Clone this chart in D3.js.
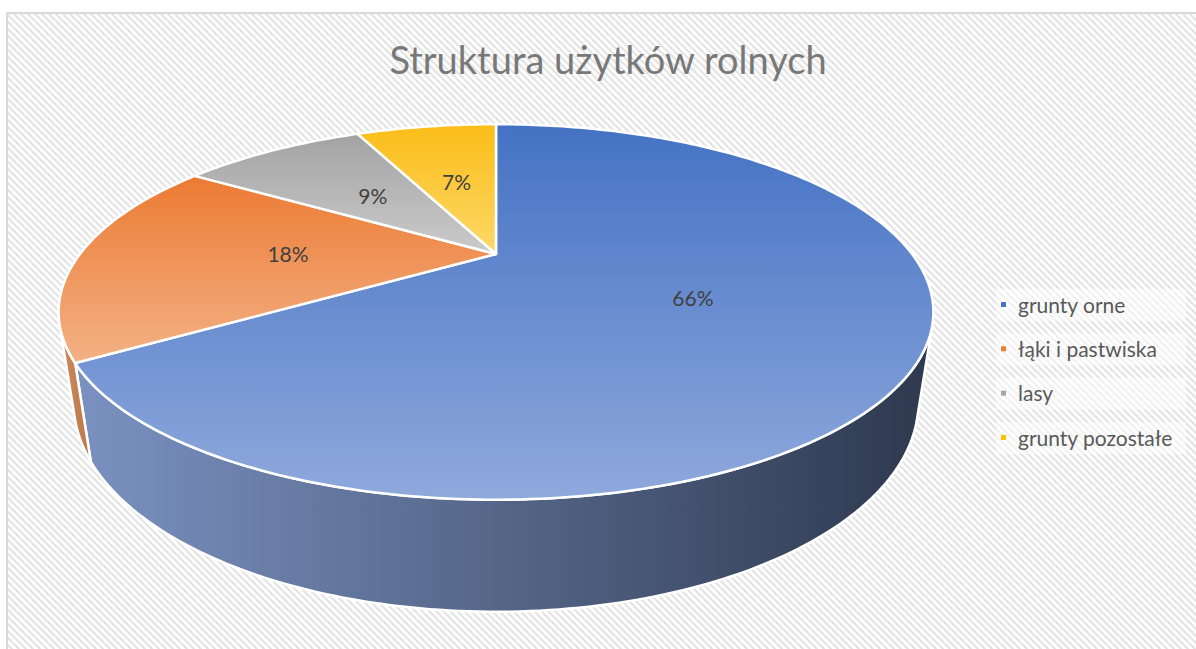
<html>
<head>
<meta charset="utf-8">
<style>
  body { margin: 0; background: #fff; }
  text { font-family: Lato, "Open Sans", sans-serif; }
</style>
</head>
<body>
<script src="https://cdn.jsdelivr.net/npm/d3@7"></script>
<script>
// chart data
const title = "Struktura użytków rolnych";
const categories = ["grunty orne", "łąki i pastwiska", "lasy", "grunty pozostałe"];
const values = [66, 18, 9, 7];

// palette: [top of slice, bottom of slice]
const topColors = [["#4472c4", "#8fa9dc"], ["#ec7b33", "#f3b186"], ["#a3a3a3", "#cbcbcb"], ["#fbbd18", "#fed868"]];
const wallColors = [["#7a91c0", "#2e394f"], ["#cd8a5c", "#b9784b"], ["#8d8d8d", "#666"], ["#d9a21a", "#b8860b"]];
const legendColors = ["#4472c4", "#ed7d31", "#a5a5a5", "#ffc000"];

const width = 1196, height = 649;

const svg = d3.select("body").append("svg")
    .attr("width", width)
    .attr("height", height);

const defs = svg.append("defs");

// background hatch
const pat = defs.append("pattern")
    .attr("id", "hatch")
    .attr("patternUnits", "userSpaceOnUse")
    .attr("width", 7).attr("height", 7);
pat.append("rect").attr("width", 7).attr("height", 7).attr("fill", "#fff");
pat.append("path")
    .attr("d", "M0,0L7,7M-1,6L1,8M6,-1L8,1")
    .attr("stroke", "#e4e4e4")
    .attr("stroke-width", 2.2);

svg.append("rect")
    .attr("x", 7).attr("y", 13)
    .attr("width", width + 10).attr("height", height + 10)
    .attr("fill", "url(#hatch)")
    .attr("stroke", "#d9d9d9")
    .attr("stroke-width", 2);

// perspective camera for the 3d pie
const cam = { x0: 496, y0: 254, F: 1230.6, D: 2.958, phi: 24.1 * Math.PI / 180, H: 0.2345 };
function project(theta, r, level) {
    const U = r * Math.sin(theta), V = -r * Math.cos(theta), Y = -level * cam.H;
    const z = cam.D - Y * Math.sin(cam.phi) - V * Math.cos(cam.phi);
    return [cam.x0 + cam.F * U / z, cam.y0 + cam.F * (V * Math.sin(cam.phi) - Y * Math.cos(cam.phi)) / z];
}
// silhouette angles of the side wall
const vc = cam.D * Math.cos(cam.phi);
const thR = Math.atan2(Math.sqrt(1 - 1 / (vc * vc)), -1 / vc);
const thL = 2 * Math.PI - thR;

function arcPoints(a, b, level) {
    const n = Math.max(2, Math.ceil(Math.abs(b - a) / (Math.PI / 180)));
    return d3.range(n + 1).map(i => project(a + (b - a) * i / n, 1, level));
}

const pie = d3.pie().sort(null).startAngle(0).endAngle(2 * Math.PI);
const arcs = pie(values);
const line = d3.line();

// side walls
const walls = svg.append("g");
arcs.forEach((d, i) => {
    const a = Math.max(d.startAngle, thR), b = Math.min(d.endAngle, thL);
    if (b <= a) return;
    const pts = arcPoints(a, b, 0).concat(arcPoints(b, a, 1));
    const xs = pts.map(p => p[0]);
    const g = defs.append("linearGradient")
        .attr("id", "wall" + i)
        .attr("gradientUnits", "userSpaceOnUse")
        .attr("x1", i === 0 ? 80 : d3.min(xs)).attr("x2", i === 0 ? 930 : d3.max(xs))
        .attr("y1", 0).attr("y2", 0);
    g.append("stop").attr("offset", 0).attr("stop-color", wallColors[i][0]);
    g.append("stop").attr("offset", 1).attr("stop-color", wallColors[i][1]);
    walls.append("path")
        .attr("d", line(pts) + "Z")
        .attr("fill", "url(#wall" + i + ")")
        .attr("stroke", "#fff")
        .attr("stroke-width", 2.5)
        .attr("stroke-linejoin", "round");
});

// top faces
const tops = svg.append("g");
arcs.forEach((d, i) => {
    const pts = [project(0, 0, 0)].concat(arcPoints(d.startAngle, d.endAngle, 0));
    const ys = pts.map(p => p[1]);
    const g = defs.append("linearGradient")
        .attr("id", "top" + i)
        .attr("gradientUnits", "userSpaceOnUse")
        .attr("x1", 0).attr("x2", 0)
        .attr("y1", d3.min(ys)).attr("y2", d3.max(ys));
    g.append("stop").attr("offset", 0).attr("stop-color", topColors[i][0]);
    g.append("stop").attr("offset", 1).attr("stop-color", topColors[i][1]);
    tops.append("path")
        .attr("d", line(pts) + "Z")
        .attr("fill", "url(#top" + i + ")")
        .attr("stroke", "#fff")
        .attr("stroke-width", 2.5)
        .attr("stroke-linejoin", "round");
});

// percentage labels
const total = d3.sum(values);
svg.append("g").selectAll("text")
    .data(arcs)
    .join("text")
    .attr("transform", d => {
        const p = project((d.startAngle + d.endAngle) / 2, 0.5, 0);
        return "translate(" + p[0] + "," + p[1] + ")";
    })
    .attr("text-anchor", "middle")
    .attr("dy", "0.36em")
    .attr("font-size", 21)
    .attr("fill", "#404040")
    .text(d => Math.round(d.value / total * 100) + "%");

// title
svg.append("text")
    .attr("x", 608).attr("y", 74)
    .attr("text-anchor", "middle")
    .attr("font-size", 38)
    .attr("fill", "#787878")
    .text(title);

// legend
const legend = svg.append("g").attr("transform", "translate(996,0)");
const ly = d3.scalePoint().domain(categories).range([305, 438]);
const item = legend.selectAll("g")
    .data(categories)
    .join("g")
    .attr("transform", d => "translate(0," + ly(d) + ")");
item.append("rect")
    .attr("x", 0).attr("y", -16)
    .attr("width", 190).attr("height", 32)
    .attr("fill", "#fff").attr("opacity", 0.5);
item.append("rect")
    .attr("x", 5).attr("y", -3)
    .attr("width", 5).attr("height", 5)
    .attr("fill", (d, i) => legendColors[i]);
item.append("text")
    .attr("x", 22).attr("dy", "0.36em")
    .attr("font-size", 21)
    .attr("fill", "#595959")
    .text(d => d);
</script>
</body>
</html>
